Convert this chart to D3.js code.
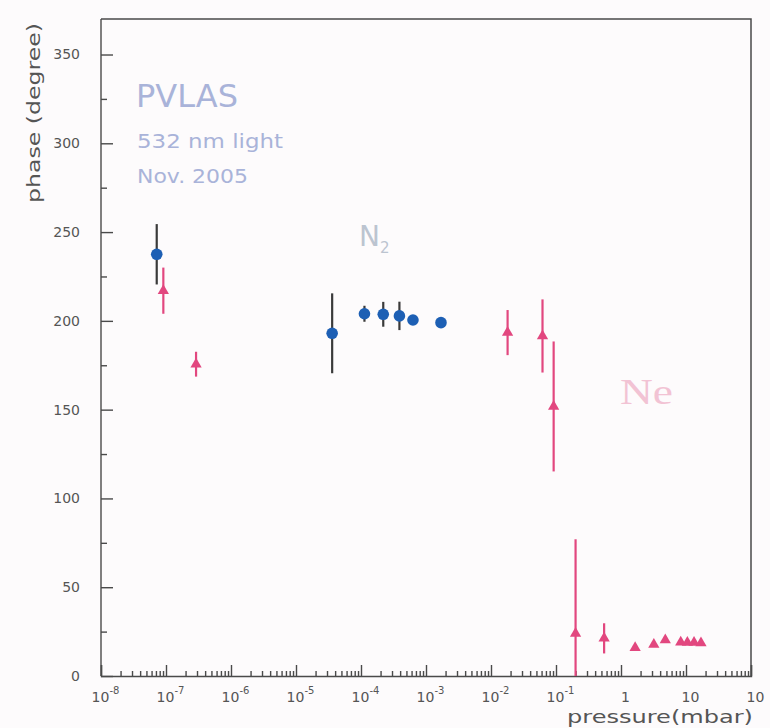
<!DOCTYPE html>
<html>
<head>
<meta charset="utf-8">
<script src="https://cdn.jsdelivr.net/npm/d3@7"></script>
<style>
  body { margin: 0; background: #fdfbfc; }
  svg { display: block; }
</style>
</head>
<body>
<svg id="chart" width="770" height="728"></svg>
<script>
// N2 points (blue circles), pressure in mbar, phase in degrees
const n2Pressure = [7.2e-8, 3.6e-5, 1.13e-4, 2.2e-4, 3.9e-4, 6.3e-4, 1.7e-3];
const n2Phase = [237.5, 193, 204, 203.7, 202.8, 200.5, 199];
const n2Err = [17, 22.5, 4.5, 7, 8, 0, 0];

// Ne points (pink triangles)
const nePressure = [9.1e-8, 2.9e-7, 1.8e-2, 6.2e-2, 9.2e-2, 0.2, 0.55, 1.65, 3.2, 4.8, 8.3, 10.5, 13.3, 17];
const nePhase = [217, 175.6, 193.4, 191.5, 151.8, 24, 21.2, 15.9, 17.8, 20.3, 19, 18.8, 18.8, 18.6];
const neErr = [13, 7, 12.7, 20.6, 36.6, 53, 8.5, 0, 0, 0, 0, 0, 0, 0];

// axis ticks and labels
const xDecades = [1e-8, 1e-7, 1e-6, 1e-5, 1e-4, 1e-3, 1e-2, 1e-1, 1, 10, 100];
const xTickLabels = [["10", "-8"], ["10", "-7"], ["10", "-6"], ["10", "-5"], ["10", "-4"],
  ["10", "-3"], ["10", "-2"], ["10", "-1"], ["1", ""], ["10", ""], ["10", ""]];
const yMajor = [0, 50, 100, 150, 200, 250, 300, 350];
const yMinor = [25, 75, 125, 175, 225, 275, 325];

const BLUE = "#1d5fb4";
const PINK = "#e2477f";
const AXIS = "#4a4a4a";

const plotLeft = 101, plotRight = 751, plotTop = 19, plotBottom = 676;

const svg = d3.select("#chart");
svg.append("rect").attr("width", 770).attr("height", 728).attr("fill", "#fdfbfc");

const x = d3.scaleLog().domain([1e-8, 100]).range([plotLeft, plotRight]);
const y = d3.scaleLinear().domain([0, 370]).range([plotBottom, plotTop]);

// frame (top and right sides; the axes draw the other two)
svg.append("path")
  .attr("d", `M${plotLeft},${plotTop}H${plotRight}V${plotBottom}`)
  .attr("fill", "none")
  .attr("stroke", AXIS)
  .attr("stroke-width", 1.5);

// y axis, ticks pointing into the plot
const yAxis = svg.append("g")
  .attr("transform", `translate(${plotLeft},0)`)
  .call(d3.axisLeft(y).tickValues(yMajor).tickSize(-12).tickPadding(21));
svg.append("g")
  .attr("transform", `translate(${plotLeft},0)`)
  .call(d3.axisLeft(y).tickValues(yMinor).tickSize(-6).tickFormat(""))
  .call((g) => g.select(".domain").remove());

yAxis.select(".domain").attr("d", `M0,${plotBottom}V${plotTop}`);

// x axis, log ticks pointing up; minor ticks at 2..9 of each decade
const xMinor = xDecades.slice(0, -1).flatMap((d) => d3.range(2, 10).map((k) => d * k));
const xAxis = svg.append("g")
  .attr("transform", `translate(0,${plotBottom})`)
  .call(d3.axisBottom(x).tickValues(xDecades).tickSize(-11).tickPadding(16).tickFormat(""));
svg.append("g")
  .attr("transform", `translate(0,${plotBottom})`)
  .call(d3.axisBottom(x).tickValues(xMinor).tickSize(-5).tickFormat(""))
  .call((g) => g.select(".domain").remove());

xAxis.selectAll(".tick text").each(function (d, i) {
  const [base, exp] = xTickLabels[i];
  const t = d3.select(this).attr("dx", 4).attr("y", 26).attr("dy", null);
  t.append("tspan").text(base);
  if (exp) t.append("tspan").attr("dy", -8).attr("font-size", 10).text(exp);
});

svg.selectAll(".domain, .tick line").attr("stroke", AXIS).attr("stroke-width", 1.4);
svg.selectAll(".tick text")
  .attr("fill", "#555")
  .attr("font-family", "DejaVu Sans, sans-serif")
  .attr("font-size", 14);

// axis titles
svg.append("text")
  .attr("transform", "translate(40,113) rotate(-90)")
  .attr("text-anchor", "middle")
  .attr("font-family", "DejaVu Sans, sans-serif")
  .attr("font-size", 18)
  .attr("fill", "#555")
  .attr("textLength", 180)
  .attr("lengthAdjust", "spacingAndGlyphs")
  .text("phase (degree)");

svg.append("text")
  .attr("x", 567)
  .attr("y", 723)
  .attr("font-family", "DejaVu Sans, sans-serif")
  .attr("font-size", 18)
  .attr("fill", "#555")
  .attr("textLength", 186)
  .attr("lengthAdjust", "spacingAndGlyphs")
  .text("pressure(mbar)");

// annotations
const note = svg.append("g")
  .attr("font-family", "DejaVu Sans, sans-serif")
  .attr("fill", "#a9b3d9");
note.append("text").attr("x", 136).attr("y", 107).attr("font-size", 32).text("PVLAS");
note.append("text").attr("x", 137).attr("y", 148).attr("font-size", 20)
  .attr("textLength", 146).attr("lengthAdjust", "spacingAndGlyphs").text("532 nm light");
note.append("text").attr("x", 137).attr("y", 183).attr("font-size", 20)
  .attr("textLength", 111).attr("lengthAdjust", "spacingAndGlyphs").text("Nov. 2005");

const n2Label = svg.append("text")
  .attr("x", 359).attr("y", 246)
  .attr("font-family", "DejaVu Sans, sans-serif")
  .attr("font-size", 28)
  .attr("fill", "#bcc4d0");
n2Label.append("tspan").text("N");
n2Label.append("tspan").attr("dy", 7).attr("font-size", 15).text("2");

svg.append("text")
  .attr("x", 620).attr("y", 404)
  .attr("font-family", "Liberation Serif, serif")
  .attr("font-size", 36)
  .attr("fill", "#f2c3d4")
  .attr("textLength", 53)
  .attr("lengthAdjust", "spacingAndGlyphs")
  .text("Ne");

// clip error bars to the plot region
const clip = (v) => Math.max(0, Math.min(370, v));

const n2 = n2Pressure.map((p, i) => ({ p, v: n2Phase[i], e: n2Err[i] }));
const ne = nePressure.map((p, i) => ({ p, v: nePhase[i], e: neErr[i] }));

svg.append("g").selectAll("line")
  .data(ne.filter((d) => d.e > 0))
  .join("line")
  .attr("x1", (d) => x(d.p)).attr("x2", (d) => x(d.p))
  .attr("y1", (d) => y(clip(d.v - d.e))).attr("y2", (d) => y(clip(d.v + d.e)))
  .attr("stroke", PINK)
  .attr("stroke-width", 2.2);

svg.append("g").selectAll("path")
  .data(ne)
  .join("path")
  .attr("d", d3.symbol(d3.symbolTriangle, 55))
  .attr("transform", (d) => `translate(${x(d.p)},${y(d.v)})`)
  .attr("fill", PINK);

svg.append("g").selectAll("line")
  .data(n2.filter((d) => d.e > 0))
  .join("line")
  .attr("x1", (d) => x(d.p)).attr("x2", (d) => x(d.p))
  .attr("y1", (d) => y(clip(d.v - d.e))).attr("y2", (d) => y(clip(d.v + d.e)))
  .attr("stroke", "#3a3a3a")
  .attr("stroke-width", 2.2);

svg.append("g").selectAll("circle")
  .data(n2)
  .join("circle")
  .attr("cx", (d) => x(d.p))
  .attr("cy", (d) => y(d.v))
  .attr("r", 5.8)
  .attr("fill", BLUE);
</script>
</body>
</html>
